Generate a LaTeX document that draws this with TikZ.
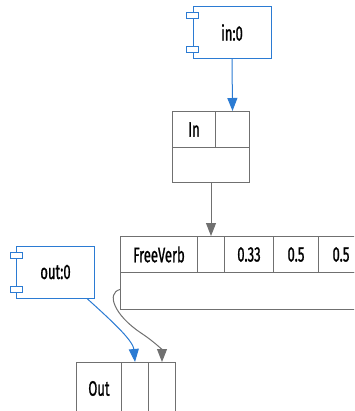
\documentclass[tikz,border=0pt]{standalone}
\usepackage{fontspec}
\setmainfont{Fira Sans}[FakeStretch=0.62,FakeBold=1]
\usetikzlibrary{arrows.meta,calc}

\definecolor{wireblue}{HTML}{2B7BD3}
\definecolor{wiregray}{HTML}{707070}
\newcommand\labelfont{\fontsize{21}{21}\selectfont}

\begin{document}
\begin{tikzpicture}[
	x=1pt, y=-1pt,
	>={Triangle[length=13pt,width=10pt]},
	cell/.style={draw=wiregray, line width=1pt, anchor=north west, inner sep=0pt, minimum height=36pt, font=\labelfont},
	comp/.style={color=wireblue, draw=wireblue, text=black, line width=1pt, fill=white, inner sep=0pt, minimum width=78pt, minimum height=52pt, font=\labelfont},
	port/.style={draw=wireblue, line width=1pt, fill=white, minimum width=12pt, minimum height=6pt, inner sep=0pt},
	blueline/.style={draw=wireblue, line width=1pt, ->},
	grayline/.style={draw=wiregray, line width=1pt, ->}
]
\useasboundingbox (0,0) rectangle (354,411);
\begin{scope}
\clip (0,0) rectangle (354,411);

% In
\node[cell, minimum width=43pt] (inname) at (172,111) {In};
\node[cell, minimum width=34pt] (inblank) at (215,111) {};
\node[cell, minimum width=77pt, minimum height=35pt] (inbody) at (172,147) {};

% FreeVerb
\node[cell, minimum width=77pt] (fvname) at (120,236) {FreeVerb};
\node[cell, minimum width=27pt] (fvblank) at (197,236) {};
\node[cell, minimum width=49pt] (fvroom) at (224,236) {0.33};
\node[cell, minimum width=45pt] (fvdamp) at (273,236) {0.5};
\node[cell, minimum width=45pt] (fvmix) at (318,236) {0.5};
\node[cell, minimum width=243pt, minimum height=37pt] (fvbody) at (120,272) {};

% Out
\node[cell, minimum width=45pt, minimum height=52pt] (outname) at (76,362) {Out};
\node[cell, minimum width=27pt, minimum height=52pt] (outb) at (121,362) {};
\node[cell, minimum width=27pt, minimum height=52pt] (outc) at (148,362) {};

% components
\node[comp] (out0) at (55.5,272) {out:0};
\node[port] (out0a) at ($(out0.west)+(0,-17)$) {};
\node[port] (out0b) at ($(out0.west)+(0,17)$) {};

\node[comp] (in0) at (232,32.5) {in:0};
\node[port] (in0a) at ($(in0.west)+(0,-17)$) {};
\node[port] (in0b) at ($(in0.west)+(0,17)$) {};

% wires
\draw[blueline] (in0.south) -- (inblank.north);
\draw[grayline] (inbody.south) -- (fvblank.north);
\draw[blueline] ($(out0.south east)+(-8,0)$) .. controls ($(out0.south east)+(14,20)$) and ($(outb.north)+(-2,-22)$) .. (outb.north);
\draw[grayline] ($(fvbody.west)+(0,-1.5)$) .. controls ($(fvbody.west)+(-14,2)$) and ($(fvbody.west)+(-6,24)$) .. ($(outc.north)+(-21,-29)$) .. controls ($(outc.north)+(-6,-19)$) and ($(outc.north)+(0,-12)$) .. (outc.north);
\end{scope}
\end{tikzpicture}
\end{document}
